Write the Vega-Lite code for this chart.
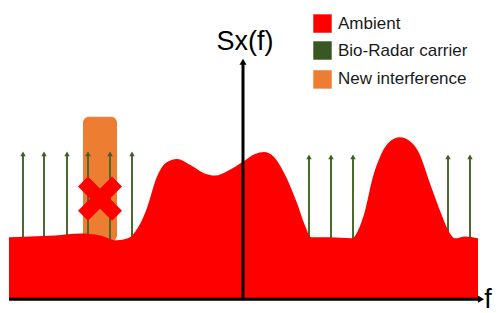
{
  "$schema": "https://vega.github.io/schema/vega-lite/v6.json",
  "width": 498,
  "height": 313,
  "autosize": {"type": "fit", "contains": "padding"},
  "padding": 0,
  "background": "white",
  "config": {"view": {"stroke": null}},
  "datasets": {
    "ambient": [
      {"f": 9, "amp": 63}, {"f": 30, "amp": 64}, {"f": 55, "amp": 65}, {"f": 80, "amp": 67},
      {"f": 100, "amp": 65}, {"f": 117, "amp": 60}, {"f": 128, "amp": 62}, {"f": 138, "amp": 73},
      {"f": 147, "amp": 93}, {"f": 157, "amp": 125}, {"f": 166, "amp": 139}, {"f": 177, "amp": 143},
      {"f": 190, "amp": 137}, {"f": 203, "amp": 129}, {"f": 215, "amp": 126}, {"f": 228, "amp": 131},
      {"f": 243, "amp": 140}, {"f": 255, "amp": 148}, {"f": 264, "amp": 150}, {"f": 274, "amp": 145},
      {"f": 284, "amp": 129}, {"f": 297, "amp": 98}, {"f": 305, "amp": 75}, {"f": 311, "amp": 63},
      {"f": 330, "amp": 63}, {"f": 352, "amp": 62}, {"f": 358, "amp": 70}, {"f": 365, "amp": 90},
      {"f": 373, "amp": 125}, {"f": 380, "amp": 145}, {"f": 388, "amp": 159}, {"f": 400, "amp": 165},
      {"f": 410, "amp": 161}, {"f": 418, "amp": 151}, {"f": 430, "amp": 118}, {"f": 442, "amp": 85},
      {"f": 450, "amp": 67}, {"f": 455, "amp": 62}, {"f": 465, "amp": 64}, {"f": 478, "amp": 62}
    ],
    "carriers": [
      {"f": 23, "top": 148}, {"f": 44, "top": 148}, {"f": 67, "top": 148}, {"f": 88, "top": 148},
      {"f": 110, "top": 148}, {"f": 132, "top": 148},
      {"f": 309, "top": 145}, {"f": 331, "top": 145}, {"f": 353, "top": 145},
      {"f": 448, "top": 145}, {"f": 470, "top": 145}
    ],
    "interference": [{"f0": 83, "f1": 117, "a0": 59, "a1": 186}],
    "cross": [
      {"f0": 83, "a0": 120, "f1": 117, "a1": 85},
      {"f0": 83, "a0": 85, "f1": 117, "a1": 120}
    ],
    "axes": [
      {"name": "faxis", "f0": 9, "f1": 480, "a0": 0, "a1": 0},
      {"name": "saxis", "f0": 243, "f1": 243, "a0": -1, "a1": 241}
    ],
    "heads": [
      {"name": "f", "f": 481, "amp": 0, "shape": "triangle-right"},
      {"name": "s", "f": 243, "amp": 242, "shape": "triangle-up"}
    ],
    "labels": [
      {"t": "Sx(f)", "f": 245, "amp": 262, "align": "center"},
      {"t": "f", "f": 488, "amp": -1, "align": "left"}
    ],
    "legend": [
      {"f": 322.5, "amp": 281, "label": "Ambient", "kind": "Ambient"},
      {"f": 322.5, "amp": 253.5, "label": "Bio-Radar carrier", "kind": "Bio-Radar carrier"},
      {"f": 322.5, "amp": 224, "label": "New interference", "kind": "New interference"}
    ]
  },
  "layer": [
    {
      "data": {"name": "interference"},
      "mark": {"type": "rect", "color": "#ED7D31", "cornerRadius": 6},
      "encoding": {
        "x": {"field": "f0", "type": "quantitative", "scale": {"domain": [0, 498], "nice": false, "zero": false}, "axis": null},
        "x2": {"field": "f1"},
        "y": {"field": "a0", "type": "quantitative", "scale": {"domain": [-8, 305], "nice": false, "zero": false}, "axis": null},
        "y2": {"field": "a1"}
      }
    },
    {
      "data": {"name": "carriers"},
      "transform": [{"calculate": "0", "as": "base"}],
      "mark": {"type": "rule", "color": "#4A6B30", "strokeWidth": 2},
      "encoding": {
        "x": {"field": "f", "type": "quantitative"},
        "y": {"field": "base", "type": "quantitative"},
        "y2": {"field": "top"}
      }
    },
    {
      "data": {"name": "carriers"},
      "mark": {"type": "point", "shape": "triangle-up", "filled": true, "color": "#3E5F28", "opacity": 1, "size": 30},
      "encoding": {
        "x": {"field": "f", "type": "quantitative"},
        "y": {"field": "top", "type": "quantitative"}
      }
    },
    {
      "data": {"name": "ambient"},
      "transform": [{"calculate": "0", "as": "base"}],
      "mark": {"type": "area", "color": "#FF0000", "interpolate": "monotone", "opacity": 1},
      "encoding": {
        "x": {"field": "f", "type": "quantitative"},
        "y": {"field": "amp", "type": "quantitative"},
        "y2": {"field": "base"}
      }
    },
    {
      "data": {"name": "cross"},
      "mark": {"type": "rule", "color": "#FF0000", "strokeWidth": 14, "strokeCap": "butt"},
      "encoding": {
        "x": {"field": "f0", "type": "quantitative"},
        "x2": {"field": "f1"},
        "y": {"field": "a0", "type": "quantitative"},
        "y2": {"field": "a1"}
      }
    },
    {
      "data": {"name": "axes"},
      "mark": {"type": "rule", "color": "black", "strokeWidth": 3},
      "encoding": {
        "x": {"field": "f0", "type": "quantitative"},
        "x2": {"field": "f1"},
        "y": {"field": "a0", "type": "quantitative"},
        "y2": {"field": "a1"}
      }
    },
    {
      "data": {"name": "heads"},
      "mark": {"type": "point", "filled": true, "color": "black", "opacity": 1, "size": 50},
      "encoding": {
        "x": {"field": "f", "type": "quantitative"},
        "y": {"field": "amp", "type": "quantitative"},
        "shape": {"field": "shape", "type": "nominal", "scale": null, "legend": null}
      }
    },
    {
      "data": {"name": "labels"},
      "mark": {"type": "text", "font": "Liberation Sans", "fontSize": 27, "color": "black", "baseline": "middle"},
      "encoding": {
        "x": {"field": "f", "type": "quantitative"},
        "y": {"field": "amp", "type": "quantitative"},
        "align": {"field": "align"},
        "text": {"field": "t"}
      }
    },
    {
      "data": {"name": "legend"},
      "mark": {"type": "point", "shape": "square", "filled": true, "opacity": 1, "size": 340},
      "encoding": {
        "x": {"field": "f", "type": "quantitative"},
        "y": {"field": "amp", "type": "quantitative"},
        "color": {
          "field": "kind", "type": "nominal", "legend": null,
          "scale": {"domain": ["Ambient", "Bio-Radar carrier", "New interference"], "range": ["#FF0000", "#385723", "#ED7D31"]}
        }
      }
    },
    {
      "data": {"name": "legend"},
      "mark": {"type": "text", "font": "Liberation Sans", "fontSize": 17, "color": "#1a1a1a", "align": "left", "baseline": "middle", "dx": 15.5},
      "encoding": {
        "x": {"field": "f", "type": "quantitative"},
        "y": {"field": "amp", "type": "quantitative"},
        "text": {"field": "label"}
      }
    }
  ]
}
